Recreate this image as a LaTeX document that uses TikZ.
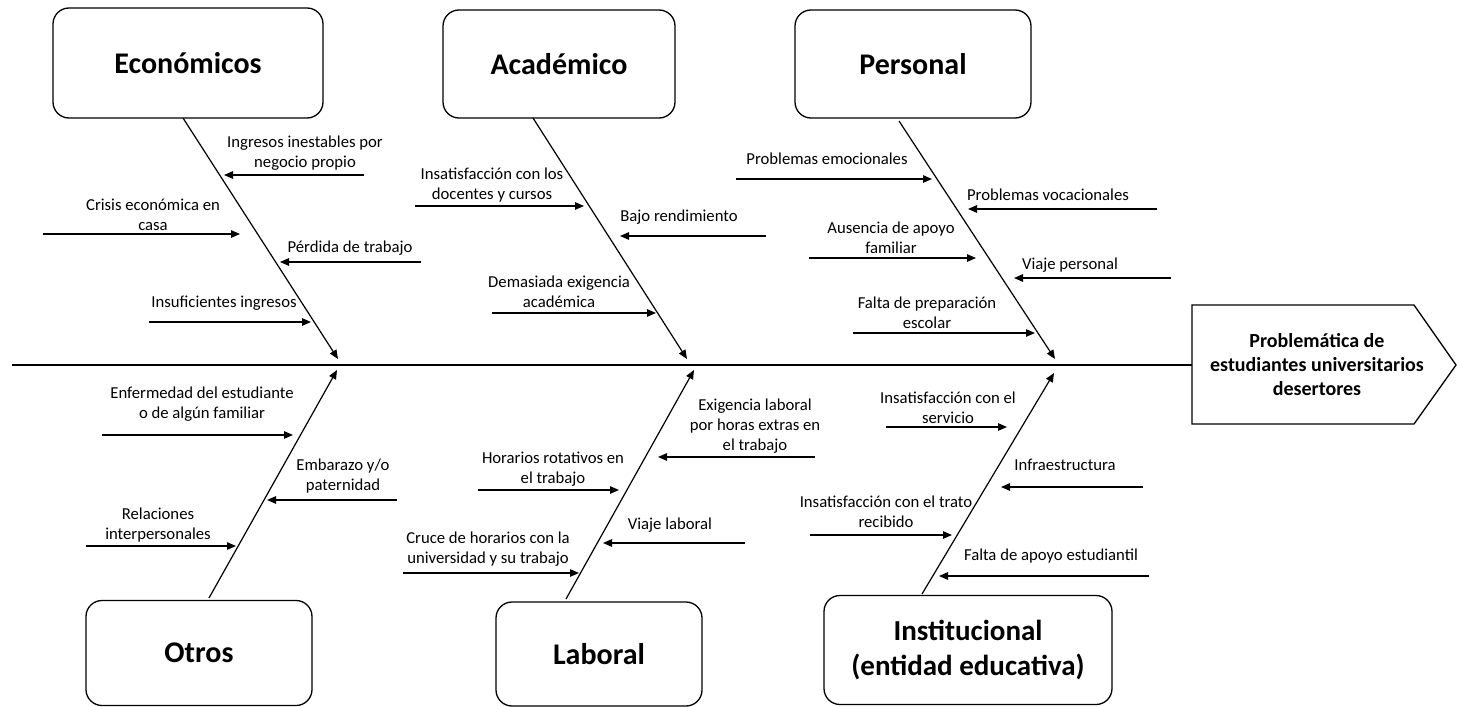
\documentclass[tikz,border=0pt]{standalone}
\usepackage{fontspec}
\setmainfont{Carlito}
\usetikzlibrary{arrows.meta}
\begin{document}
\begin{tikzpicture}[x=1pt,y=-1pt,
  catbox/.style={draw,rounded corners=16pt,line width=1.3pt,align=center,
    font=\bfseries\fontsize{30}{35}\selectfont,inner sep=2pt},
  lbl/.style={align=center,inner sep=0pt,font=\fontsize{16.7}{20}\selectfont},
  bone/.style={line width=1.2pt,-{Triangle[length=9pt,width=7.5pt]}},
  sub/.style={line width=1.2pt,-{Triangle[length=9pt,width=7.5pt]}},
  spine/.style={line width=1.4pt}]
\useasboundingbox (0,0) rectangle (1457,707);
% category boxes
\node[catbox,minimum width=270pt,minimum height=110pt] (eco) at (188,63) {Económicos};
\node[catbox,minimum width=232pt,minimum height=108pt] (aca) at (559,64) {Académico};
\node[catbox,minimum width=236pt,minimum height=108pt] (per) at (913,64) {Personal};
\node[catbox,minimum width=226pt,minimum height=105pt] (otr) at (199,653) {Otros};
\node[catbox,minimum width=206pt,minimum height=104pt] (lab) at (599,654) {Laboral};
\node[catbox,minimum width=288pt,minimum height=109pt,font=\bfseries\fontsize{29}{35}\selectfont] (ins) at (968,650) {Institucional\\(entidad educativa)};
% effect
\draw[line width=1.3pt] (1192,305) -- (1414,305) -- (1456,365) -- (1414,424) -- (1192,424) -- cycle;
\node[align=center,inner sep=0pt,font=\bfseries\fontsize{20}{24}\selectfont] (prob) at (1317,365) {Problemática de\\estudiantes universitarios\\desertores};
% spine
\coordinate (spL) at (12,365);
\coordinate (spR) at (1192,365);
\draw[spine] (spL) -- (spR);
% bones
\foreach \n/\ax/\ay/\bx/\by in {eco/183/118/338/359, aca/533/118/687/359, per/899/121/1055/359,
    otr/209/598/337/370, lab/566/599/694/370, ins/922/594/1054/373}{
  \coordinate (\n A) at (\ax,\ay);
  \coordinate (\n B) at (\bx,\by);
  \draw[bone] (\n A) -- (\n B);
}
% sub causes arrows
\foreach \n/\sx/\tx/\y in {
  e1/364/224/175, e2/43/240/234, e3/421/280/262, e4/149/311/322,
  a1/415/584/206, a2/766/620/236, a3/492/656/313,
  p1/736/932/179, p2/1157/968/209, p3/809/976/258, p4/1171/1014/278, p5/853/1035/333,
  o1/102/293/435, o2/397/267/500, o3/86/236/546,
  l1/815/658/457, l2/478/619/490, l3/745/603/543, l4/403/579/573,
  i1/886/1007/427, i2/1143/1001/487, i3/810/952/535, i4/1149/939/576}{
  \coordinate (\n s) at (\sx,\y);
  \coordinate (\n t) at (\tx,\y);
  \draw[sub] (\n s) -- (\n t);
}
% labels
\node[lbl] (te1) at (305,153.5) {Ingresos inestables por\\negocio propio};
\node[lbl] (te2) at (153,215) {Crisis económica en\\casa};
\node[lbl] (te3) at (350,248) {Pérdida de trabajo};
\node[lbl] (te4) at (224,303) {Insuficientes ingresos};
\node[lbl] (ta1) at (492,185) {Insatisfacción con los\\docentes y cursos};
\node[lbl] (ta2) at (679,217) {Bajo rendimiento};
\node[lbl] (ta3) at (559,292) {Demasiada exigencia\\académica};
\node[lbl] (tp1) at (827,159) {Problemas emocionales};
\node[lbl] (tp2) at (1048,195) {Problemas vocacionales};
\node[lbl] (tp3) at (891,237.5) {Ausencia de apoyo\\familiar};
\node[lbl] (tp4) at (1070,265) {Viaje personal};
\node[lbl] (tp5) at (927,313) {Falta de preparación\\escolar};
\node[lbl] (to1) at (202,404.5) {Enfermedad del estudiante\\o de algún familiar};
\node[lbl] (to2) at (343,476) {Embarazo y/o\\paternidad};
\node[lbl] (to3) at (158,525) {Relaciones\\interpersonales};
\node[lbl] (tl1) at (755,426) {Exigencia laboral\\por horas extras en\\el trabajo};
\node[lbl] (tl2) at (553,469) {Horarios rotativos en\\el trabajo};
\node[lbl] (tl3) at (670,525) {Viaje laboral};
\node[lbl] (tl4) at (488,549) {Cruce de horarios con la\\universidad y su trabajo};
\node[lbl] (ti1) at (948,408) {Insatisfacción con el\\servicio};
\node[lbl] (ti2) at (1065,465) {Infraestructura};
\node[lbl] (ti3) at (886,512) {Insatisfacción con el trato\\recibido};
\node[lbl] (ti4) at (1051,556) {Falta de apoyo estudiantil};
\end{tikzpicture}
\end{document}
